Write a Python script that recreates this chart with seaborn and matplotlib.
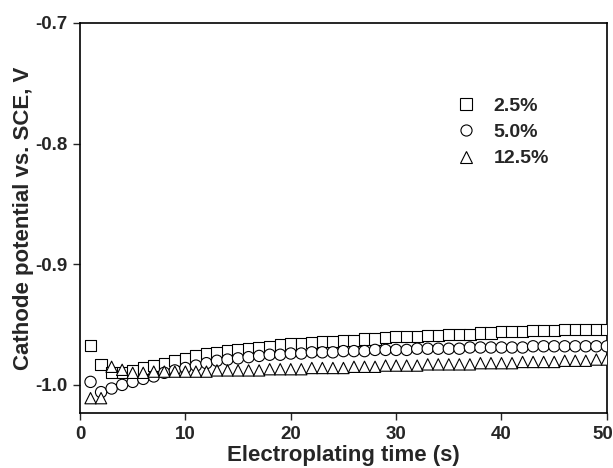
import matplotlib
matplotlib.use("Agg")
import matplotlib.pyplot as plt
import matplotlib.transforms as mtransforms
from matplotlib.lines import Line2D
import numpy as np
import pandas as pd
import seaborn as sns

# Electroplating time (s) and cathode potential vs. SCE (V)
time_s = list(range(1, 51))

pot_2_5 = [-0.9675, -0.983, -0.990, -0.990, -0.988, -0.986, -0.984, -0.982, -0.980, -0.978,
           -0.976, -0.974, -0.973, -0.972, -0.971, -0.970, -0.969, -0.968, -0.967, -0.966,
           -0.966, -0.965, -0.964, -0.964, -0.963, -0.963, -0.962, -0.962, -0.961, -0.960,
           -0.960, -0.960, -0.959, -0.959, -0.958, -0.958, -0.958, -0.957, -0.957, -0.956,
           -0.956, -0.956, -0.955, -0.955, -0.955, -0.954, -0.954, -0.954, -0.954, -0.954]

pot_5_0 = [-0.9975, -1.006, -1.003, -1.000, -0.9975, -0.995, -0.993, -0.990, -0.988, -0.986,
           -0.984, -0.982, -0.980, -0.979, -0.978, -0.977, -0.976, -0.975, -0.975, -0.974,
           -0.974, -0.973, -0.973, -0.973, -0.972, -0.972, -0.972, -0.971, -0.971, -0.971,
           -0.971, -0.970, -0.970, -0.970, -0.970, -0.970, -0.969, -0.969, -0.969, -0.969,
           -0.969, -0.969, -0.968, -0.968, -0.968, -0.968, -0.968, -0.968, -0.968, -0.968]

pot_12_5 = [-1.011, -1.011, -0.985, -0.9875, -0.990, -0.990, -0.989, -0.989, -0.989, -0.989,
            -0.989, -0.989, -0.988, -0.988, -0.988, -0.988, -0.988, -0.987, -0.987, -0.987,
            -0.987, -0.986, -0.986, -0.986, -0.986, -0.985, -0.985, -0.985, -0.984, -0.984,
            -0.984, -0.984, -0.983, -0.983, -0.983, -0.983, -0.983, -0.982, -0.982, -0.982,
            -0.982, -0.981, -0.981, -0.981, -0.981, -0.980, -0.980, -0.980, -0.979, -0.979]

labels = ["2.5%", "5.0%", "12.5%"]
markers = {"2.5%": "s", "5.0%": "o", "12.5%": "^"}

df = pd.concat([
    pd.DataFrame({"time": time_s, "potential": pot_2_5, "conc": "2.5%"}),
    pd.DataFrame({"time": time_s, "potential": pot_5_0, "conc": "5.0%"}),
    pd.DataFrame({"time": time_s, "potential": pot_12_5, "conc": "12.5%"}),
])

sns.set_style("ticks")
plt.rcParams["font.family"] = ["Liberation Sans", "DejaVu Sans"]
plt.rcParams["font.weight"] = "bold"

fig = plt.figure(figsize=(6.13, 4.68), dpi=100)
ax = fig.add_axes([0.1305, 0.1175, 0.8595, 0.8335])

sns.scatterplot(data=df, x="time", y="potential", style="conc", markers=markers,
                style_order=labels, s=66, color="white", edgecolor="black",
                linewidth=0.8, legend=False, ax=ax, zorder=3)

ax.set_xlim(0, 50)
ax.set_ylim(-1.0233, -0.7)
ax.set_xticks([0, 10, 20, 30, 40, 50])
ax.set_yticks([-1.0, -0.9, -0.8, -0.7])
ax.set_yticklabels(["-1.0", "-0.9", "-0.8", "-0.7"])
ax.tick_params(axis="both", direction="out", length=5, width=1, labelsize=13.5, pad=4)
for lab in ax.get_xticklabels() + ax.get_yticklabels():
    lab.set_fontweight("bold")
# keep the "50" label inside the canvas, as in the original
last = ax.get_xticklabels()[-1]
last.set_transform(last.get_transform() +
                   mtransforms.ScaledTranslation(-3 / 72, 0, fig.dpi_scale_trans))
for sp in ax.spines.values():
    sp.set_visible(True)
    sp.set_linewidth(1.2)
    sp.set_color("black")

ax.set_xlabel("Electroplating time (s)", fontsize=16, fontweight="bold", labelpad=2)
ax.set_ylabel("Cathode potential vs. SCE, V", fontsize=16, fontweight="bold", labelpad=1)

handles = [Line2D([], [], linestyle="none", marker=markers[l], markersize=8,
                  markerfacecolor="white", markeredgecolor="black", markeredgewidth=0.8)
           for l in labels]
ax.legend(handles, labels, loc="upper left", bbox_to_anchor=(0.678, 0.855), frameon=False,
          prop={"size": 14, "weight": "bold"}, handletextpad=0.8, labelspacing=0.45,
          handlelength=1.2)

fig.savefig("out.png", dpi=100)
